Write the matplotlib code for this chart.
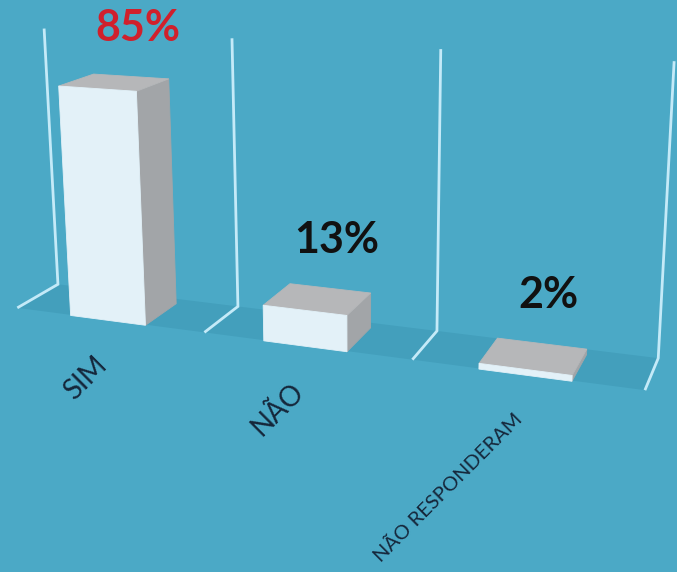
import numpy as np
import matplotlib
matplotlib.use('Agg')
import matplotlib.pyplot as plt
from matplotlib.patches import Polygon

# ---- data ----
categories = ['SIM', 'NÃO', 'NÃO RESPONDERAM']
values = [85, 13, 2]
value_labels = ['85%', '13%', '2%']
value_colors = ['#D0202C', '#111111', '#111111']
cat_fontsizes = [20, 20, 14.5]
axis_max = 100

# ---- style ----
BG = '#4BA9C6'
FLOOR = '#439FBC'
GRID = '#C4EAF8'
FRONT = '#E3F1F8'
SIDE = '#A2A5A8'
TOP = '#B6B7B9'
TXT = '#15263A'

# perspective camera matrix: world (slot, depth, value/axis_max) -> image pixels
CAM = np.array([[176.81241, 43.44933, -16.51935, 17.31658],
                [7.84045, -9.68313, -269.52502, 307.85624],
                [-0.0502208, 0.0488199, -0.0456882, 1.0]])


def proj(pts):
    pts = np.atleast_2d(np.asarray(pts, float))
    h = np.c_[pts, np.ones(len(pts))] @ CAM.T
    return h[:, :2] / h[:, 2:3]


W, H = 677, 572
fig = plt.figure(figsize=(W / 100, H / 100), dpi=100)
fig.patch.set_facecolor(BG)
ax = fig.add_axes([0, 0, 1, 1])
ax.set_xlim(0, W)
ax.set_ylim(H, 0)
ax.axis('off')

n = len(categories)
FONT = ['Lato', 'DejaVu Sans']

# floor
ax.add_patch(Polygon(proj([(0, 0, 0), (n, 0, 0), (n, 1, 0), (0, 1, 0)]),
                     closed=True, facecolor=FLOOR, edgecolor='none', zorder=1))

# grid lines (back wall verticals + floor feet)
for i in range(n + 1):
    p = proj([(i, 0, 0), (i, 1, 0), (i, 1, 1)])
    ax.plot(p[:, 0], p[:, 1], color=GRID, lw=2.0, solid_joinstyle='miter',
            solid_capstyle='butt', zorder=2)

# bars
bw = 0.4
y0, y1 = -0.02, 0.83
for i, v in enumerate(values):
    z = v / axis_max
    x0, x1 = i + 0.5 - bw / 2, i + 0.5 + bw / 2
    side = proj([(x1, y0, 0), (x1, y1, 0), (x1, y1, z), (x1, y0, z)])
    top = proj([(x0, y0, z), (x1, y0, z), (x1, y1, z), (x0, y1, z)])
    front = proj([(x0, y0, 0), (x1, y0, 0), (x1, y0, z), (x0, y0, z)])
    for poly, col in ((side, SIDE), (top, TOP), (front, FRONT)):
        ax.add_patch(Polygon(poly, closed=True, facecolor=col, edgecolor=col,
                             lw=0.6, zorder=3))
    # value label
    a = proj([(i + 0.5, y1, z)])[0]
    ax.annotate(value_labels[i], xy=(a[0], a[1]), xytext=(5, 35),
                textcoords='offset points', ha='center', va='center',
                fontsize=31, fontweight='bold', color=value_colors[i],
                family=FONT, zorder=5)
    # category label
    c = proj([(i + 0.5, 0, 0)])[0]
    ax.annotate(categories[i], xy=(c[0], c[1]), xytext=(-4, -30),
                textcoords='offset points', ha='right', va='center',
                rotation=45, rotation_mode='anchor', fontsize=cat_fontsizes[i],
                color=TXT, family=FONT, zorder=5)

fig.savefig('out.png', dpi=100, facecolor=BG)
